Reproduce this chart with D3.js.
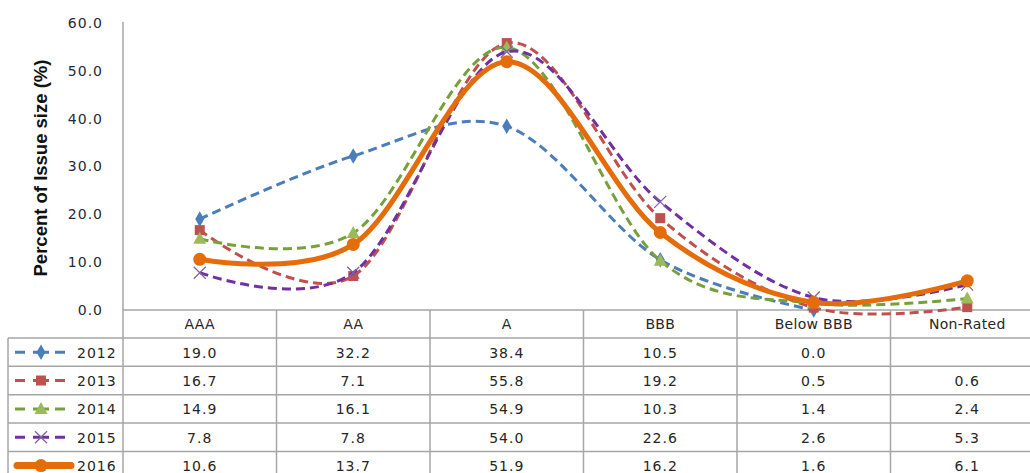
<!DOCTYPE html>
<html>
<head>
<meta charset="utf-8">
<script src="https://cdn.jsdelivr.net/npm/d3@7"></script>
<style>
  html, body { margin: 0; padding: 0; background: #fff; }
  svg { display: block; }
</style>
</head>
<body>
<svg id="chart" width="1030" height="473"></svg>
<script>
const categories = ["AAA", "AA", "A", "BBB", "Below BBB", "Non-Rated"];
const yTicks = [0, 10, 20, 30, 40, 50, 60];
const seriesNames = ["2012", "2013", "2014", "2015", "2016"];
const values2012 = [19.0, 32.2, 38.4, 10.5, 0.0, null];
const values2013 = [16.7, 7.1, 55.8, 19.2, 0.5, 0.6];
const values2014 = [14.9, 16.1, 54.9, 10.3, 1.4, 2.4];
const values2015 = [7.8, 7.8, 54.0, 22.6, 2.6, 5.3];
const values2016 = [10.6, 13.7, 51.9, 16.2, 1.6, 6.1];
const yTitle = "Percent of Issue size (%)";

const seriesValues = [values2012, values2013, values2014, values2015, values2016];
const styles = [
  {line: "#4A7EBB", fill: "#4A7EBB", width: 3, dash: "9,5", marker: "diamond"},
  {line: "#C0504D", fill: "#C0504D", width: 3, dash: "9,5", marker: "square"},
  {line: "#77A03C", fill: "#9BBB59", width: 3, dash: "9,5", marker: "triangle"},
  {line: "#7030A0", fill: "#8064A2", width: 3, dash: "9,5", marker: "cross"},
  {line: "#E46C0A", fill: "#E46C0A", width: 5, dash: null, marker: "circle"}
];

const svg = d3.select("#chart");
const plotLeft = 123, colW = 153.5, plotTop = 23, axisY = 310;
const headerH = 28, rowH = 28.35;
const x = d3.scaleBand().domain(categories).range([plotLeft, plotLeft + colW * categories.length]).padding(0);
const y = d3.scaleLinear().domain([0, 60]).range([axisY, plotTop]);
const cx = c => x(c) + x.bandwidth() / 2;
const gridColor = "#A6A6A6";
const textColor = "#262626";

// y axis labels
const yAxis = d3.axisLeft(y).tickValues(yTicks).tickFormat(d3.format(".1f")).tickSize(0).tickPadding(20);
const yg = svg.append("g").attr("transform", `translate(${plotLeft},0)`).call(yAxis);
yg.select(".domain").remove();
yg.selectAll("text")
  .attr("font-family", "DejaVu Sans")
  .attr("font-size", 14)
  .attr("letter-spacing", "1px")
  .attr("fill", "#1F2A3A");

// y title
svg.append("text")
  .attr("transform", `translate(47,168) rotate(-90)`)
  .attr("text-anchor", "middle")
  .attr("font-family", "Liberation Sans")
  .attr("font-weight", "bold")
  .attr("font-size", 18.5)
  .attr("fill", "#111")
  .text(yTitle);

const nRows = seriesNames.length;
// vertical y axis line
svg.append("line").attr("x1", plotLeft).attr("x2", plotLeft).attr("y1", 22).attr("y2", 473)
  .attr("stroke", gridColor).attr("stroke-width", 1.5);
// horizontal axis line / header top
svg.append("line").attr("x1", plotLeft).attr("x2", 1030).attr("y1", axisY).attr("y2", axisY)
  .attr("stroke", gridColor).attr("stroke-width", 1.5);
// column separators
categories.forEach((c, i) => {
  if (i === 0) return;
  svg.append("line").attr("x1", x(c)).attr("x2", x(c)).attr("y1", axisY).attr("y2", 473)
    .attr("stroke", gridColor).attr("stroke-width", 1.5);
});
// row lines
for (let r = 0; r <= nRows; r++) {
  const yy = axisY + headerH + r * rowH;
  svg.append("line").attr("x1", 8).attr("x2", 1030).attr("y1", yy).attr("y2", yy)
    .attr("stroke", gridColor).attr("stroke-width", 1.5);
}
// legend column left border
svg.append("line").attr("x1", 8).attr("x2", 8).attr("y1", axisY + headerH).attr("y2", 473)
  .attr("stroke", gridColor).attr("stroke-width", 1.5);

// header labels
svg.append("g").selectAll("text").data(categories).join("text")
  .attr("x", d => cx(d))
  .attr("y", axisY + headerH / 2 + 5)
  .attr("text-anchor", "middle")
  .attr("font-family", "DejaVu Sans")
  .attr("font-size", 14)
  .attr("letter-spacing", "0.3px")
  .attr("fill", textColor)
  .text(d => d);

// table values
seriesValues.forEach((vals, r) => {
  const rowMid = axisY + headerH + r * rowH + rowH / 2;
  svg.append("g").selectAll("text").data(categories).join("text")
    .attr("x", d => cx(d))
    .attr("y", rowMid + 5.5)
    .attr("text-anchor", "middle")
    .attr("font-family", "DejaVu Sans")
    .attr("font-size", 14)
    .attr("letter-spacing", "1px")
    .attr("fill", textColor)
    .text((d, i) => vals[i] == null ? "" : vals[i].toFixed(1));
});

// marker drawing
function drawMarker(g, type, px, py, st) {
  if (type === "diamond") {
    g.append("path").attr("d", d3.symbol(d3.symbolDiamond, 70)())
      .attr("transform", `translate(${px},${py})`).attr("fill", st.fill);
  } else if (type === "square") {
    g.append("rect").attr("x", px - 5).attr("y", py - 5).attr("width", 10).attr("height", 10)
      .attr("fill", st.fill);
  } else if (type === "triangle") {
    g.append("path").attr("d", `M${px},${py - 7}L${px + 6.5},${py + 5}L${px - 6.5},${py + 5}Z`)
      .attr("fill", st.fill);
  } else if (type === "cross") {
    g.append("path").attr("d", `M${px - 6},${py - 6}L${px + 6},${py + 6}M${px - 6},${py + 6}L${px + 6},${py - 6}`)
      .attr("stroke", st.fill).attr("stroke-width", 1.3).attr("fill", "none");
  } else if (type === "circle") {
    g.append("circle").attr("cx", px).attr("cy", py).attr("r", 6.5).attr("fill", st.fill);
  }
}

// series lines
const line = d3.line()
  .defined(d => d.v != null)
  .x(d => cx(d.c))
  .y(d => y(d.v))
  .curve(d3.curveCatmullRom.alpha(0));

seriesValues.forEach((vals, s) => {
  const st = styles[s];
  const data = categories.map((c, i) => ({c, v: vals[i]}));
  const g = svg.append("g");
  g.append("path").datum(data)
    .attr("d", line)
    .attr("fill", "none")
    .attr("stroke", st.line)
    .attr("stroke-width", st.width)
    .attr("stroke-dasharray", st.dash)
    .attr("stroke-linecap", st.dash ? "butt" : "round");
  data.filter(d => d.v != null).forEach(d => drawMarker(g, st.marker, cx(d.c), y(d.v), st));
});

// legend in table
seriesNames.forEach((name, r) => {
  const st = styles[r];
  const rowMid = axisY + headerH + r * rowH + rowH / 2;
  const g = svg.append("g");
  if (st.dash) {
    g.append("line").attr("x1", 15).attr("x2", 66).attr("y1", rowMid).attr("y2", rowMid)
      .attr("stroke", st.line).attr("stroke-width", st.width).attr("stroke-dasharray", "10,8,16,6,10");
  } else {
    g.append("line").attr("x1", 17).attr("x2", 71).attr("y1", rowMid).attr("y2", rowMid)
      .attr("stroke", st.line).attr("stroke-width", 7).attr("stroke-linecap", "round");
  }
  drawMarker(g, st.marker, 41, rowMid, st);
  g.append("text").attr("x", 77).attr("y", rowMid + 5.5)
    .attr("font-family", "DejaVu Sans").attr("font-size", 14).attr("letter-spacing", "1px")
    .attr("fill", textColor).text(name);
});
</script>
</body>
</html>
